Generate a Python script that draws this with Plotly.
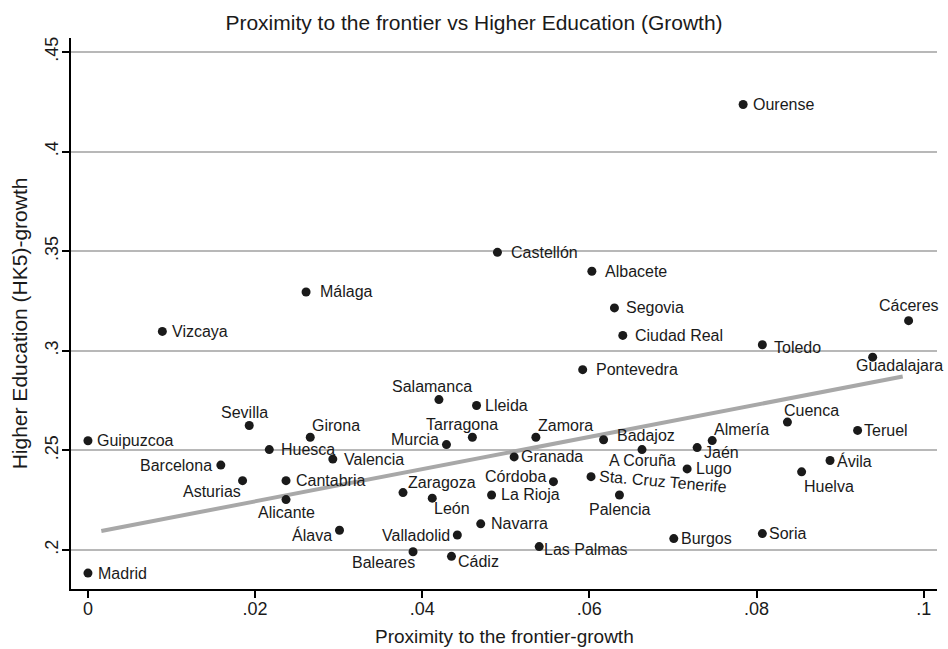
import plotly.graph_objects as go

# ---------------- data ----------------
provinces = [
    "Madrid", "Guipuzcoa", "Barcelona", "Asturias", "Sevilla", "Huesca", "Girona",
    "Cantabria", "Alicante", "Valencia", "Álava", "Zaragoza", "León", "Valladolid",
    "Baleares", "Cádiz", "Murcia", "Salamanca", "Tarragona", "Lleida", "Navarra",
    "Zamora", "Granada", "Córdoba", "La Rioja", "Las Palmas", "Badajoz", "A Coruña",
    "Sta. Cruz Tenerife", "Palencia", "Jaén", "Almería", "Lugo", "Burgos", "Soria",
    "Cuenca", "Huelva", "Ávila", "Teruel", "Ourense", "Castellón", "Albacete",
    "Segovia", "Ciudad Real", "Toledo", "Cáceres", "Guadalajara", "Pontevedra",
    "Málaga", "Vizcaya",
]
proximity = [
    0.0000, 0.0000, 0.0159, 0.0185, 0.0193, 0.0217, 0.0266,
    0.0237, 0.0237, 0.0293, 0.0301, 0.0377, 0.0412, 0.0442,
    0.0389, 0.0435, 0.0429, 0.0420, 0.0460, 0.0465, 0.0470,
    0.0536, 0.0510, 0.0557, 0.0483, 0.0540, 0.0617, 0.0663,
    0.0602, 0.0636, 0.0729, 0.0747, 0.0717, 0.0701, 0.0807,
    0.0837, 0.0854, 0.0888, 0.0921, 0.0784, 0.0490, 0.0603,
    0.0630, 0.0640, 0.0807, 0.0982, 0.0939, 0.0592,
    0.0261, 0.0089,
]
hk5_growth = [
    0.1884, 0.2548, 0.2426, 0.2348, 0.2625, 0.2504, 0.2566,
    0.2348, 0.2253, 0.2456, 0.2099, 0.2288, 0.2260, 0.2075,
    0.1991, 0.1968, 0.2529, 0.2755, 0.2566, 0.2725, 0.2131,
    0.2566, 0.2467, 0.2343, 0.2276, 0.2017, 0.2553, 0.2504,
    0.2368, 0.2276, 0.2514, 0.2549, 0.2407, 0.2057, 0.2082,
    0.2642, 0.2392, 0.2449, 0.2600, 0.4236, 0.3494, 0.3399,
    0.3215, 0.3077, 0.3030, 0.3151, 0.2968, 0.2905,
    0.3295, 0.3097,
]
fit_x = [0.0016, 0.0975]
fit_y = [0.2095, 0.2871]

x_ticks = [0, 0.02, 0.04, 0.06, 0.08, 0.1]
x_tick_labels = ["0", ".02", ".04", ".06", ".08", ".1"]
y_ticks = [0.2, 0.25, 0.3, 0.35, 0.4, 0.45]
y_tick_labels = [".2", ".25", ".3", ".35", ".4", ".45"]

title_text = "Proximity to the frontier vs Higher Education (Growth)"
x_title = "Proximity to the frontier-growth"
y_title = "Higher Education (HK5)-growth"

# ---------------- label placement (style) ----------------
# (clock position, gap px, extra dx, extra dy)
LABEL_POS = {
    "Madrid": (3, 8), "Guipuzcoa": (3, 7), "Barcelona": (9, 7), "Asturias": (7, 0),
    "Sevilla": (12, 2, -5), "Huesca": (3, 10), "Girona": (1, 1), "Cantabria": (3, 8),
    "Alicante": (6, 2), "Valencia": (3, 9), "Álava": (8, 6), "Zaragoza": (1, 0, 3),
    "León": (5, 0), "Valladolid": (9, 5), "Baleares": (7, 0, 4), "Cádiz": (4, 5),
    "Murcia": (10, 5), "Salamanca": (12, 3, -7), "Tarragona": (12, 2, -10),
    "Lleida": (3, 6), "Navarra": (3, 8), "Zamora": (1, 1), "Granada": (3, 5),
    "Córdoba": (10, 5), "La Rioja": (3, 7), "Las Palmas": (4, 3, 0, 2),
    "Badajoz": (2, 11, 0, -1), "A Coruña": (6, 0), "Palencia": (6, 4),
    "Jaén": (4, 5), "Almería": (1, 1), "Lugo": (3, 7), "Burgos": (3, 5),
    "Soria": (3, 5), "Cuenca": (1, 1, -5), "Huelva": (5, 4), "Ávila": (3, 5),
    "Teruel": (3, 4), "Ourense": (3, 8), "Castellón": (3, 12), "Albacete": (3, 11),
    "Segovia": (3, 10), "Ciudad Real": (3, 10), "Toledo": (3, 10, 0, -3),
    "Cáceres": (12, 5), "Guadalajara": (6, -2, 27), "Pontevedra": (3, 11),
    "Málaga": (3, 12), "Vizcaya": (3, 8),
}


def place(clock, g):
    return {
        3: ("left", "middle", g, 0),
        9: ("right", "middle", -g, 0),
        12: ("center", "bottom", 0, g),
        6: ("center", "top", 0, -g),
        1: ("left", "bottom", 0, g),
        11: ("right", "bottom", 0, g),
        5: ("left", "top", 0, -g),
        7: ("right", "top", 0, -g),
        4: ("left", "middle", g, -5),
        2: ("left", "middle", g, 5),
        10: ("right", "middle", -g, 5),
        8: ("right", "middle", -g, -5),
    }[clock]


FONT = "Liberation Sans, Arial, Helvetica, sans-serif"
INK = "#1a1a1a"

fig = go.Figure()

fig.add_trace(go.Scatter(
    x=fit_x, y=fit_y, mode="lines",
    line=dict(color="#a8a8a8", width=4),
    hoverinfo="skip", showlegend=False,
))

fig.add_trace(go.Scatter(
    x=proximity, y=hk5_growth, mode="markers",
    marker=dict(color=INK, size=9, line=dict(width=0)),
    text=provinces, hoverinfo="text", showlegend=False,
    cliponaxis=False,
))

annotations = []
for name, xv, yv in zip(provinces, proximity, hk5_growth):
    if name == "Sta. Cruz Tenerife":
        annotations.append(dict(
            x=xv, y=yv, xref="x", yref="y", text=name, showarrow=False,
            xanchor="left", yanchor="middle", xshift=5, yshift=-5, textangle=5,
            font=dict(family=FONT, size=16, color=INK),
        ))
        continue
    spec = LABEL_POS[name]
    clock, gap = spec[0], spec[1]
    edx = spec[2] if len(spec) > 2 else 0
    edy = spec[3] if len(spec) > 3 else 0
    xa, ya, dx, dy = place(clock, gap)
    annotations.append(dict(
        x=xv, y=yv, xref="x", yref="y", text=name, showarrow=False,
        xanchor=xa, yanchor=ya, xshift=dx + edx, yshift=dy + edy,
        font=dict(family=FONT, size=16, color=INK),
    ))

# axis titles
annotations.append(dict(
    x=0.5, y=-0.0865, xref="paper", yref="paper", text=x_title, showarrow=False,
    xanchor="center", yanchor="middle",
    font=dict(family=FONT, size=19, color=INK),
))
annotations.append(dict(
    x=-0.059, y=0.482, xref="paper", yref="paper", text=y_title, showarrow=False,
    xanchor="center", yanchor="middle", textangle=-90,
    font=dict(family=FONT, size=21, color=INK),
))

fig.update_layout(
    width=948, height=649,
    margin=dict(l=71, r=11, t=38, b=60),
    paper_bgcolor="white", plot_bgcolor="white",
    font=dict(family=FONT, color=INK),
    title=dict(
        text=title_text, x=0.5, xref="container", xanchor="center",
        y=1 - 23 / 649, yref="container", yanchor="middle",
        font=dict(family=FONT, size=21, color=INK),
    ),
    annotations=annotations,
    showlegend=False,
)

fig.update_xaxes(
    range=[-0.00203, 0.1016],
    tickvals=x_ticks, ticktext=x_tick_labels,
    showgrid=False, zeroline=False,
    showline=True, linecolor="black", linewidth=1.5,
    ticks="outside", ticklen=7, tickwidth=1.5, tickcolor="black",
    tickfont=dict(family=FONT, size=18, color=INK),
    ticklabelstandoff=-4,
)
fig.update_yaxes(
    range=[0.1804, 0.457],
    tickvals=y_ticks, ticktext=y_tick_labels, tickangle=-90,
    showgrid=True, gridcolor="#b8b8b8", gridwidth=1.5,
    zeroline=False,
    showline=True, linecolor="black", linewidth=1.5,
    ticks="outside", ticklen=7, tickwidth=1.5, tickcolor="black",
    tickfont=dict(family=FONT, size=18, color=INK),
    ticklabelstandoff=-3,
)

fig.write_html("out.html")
